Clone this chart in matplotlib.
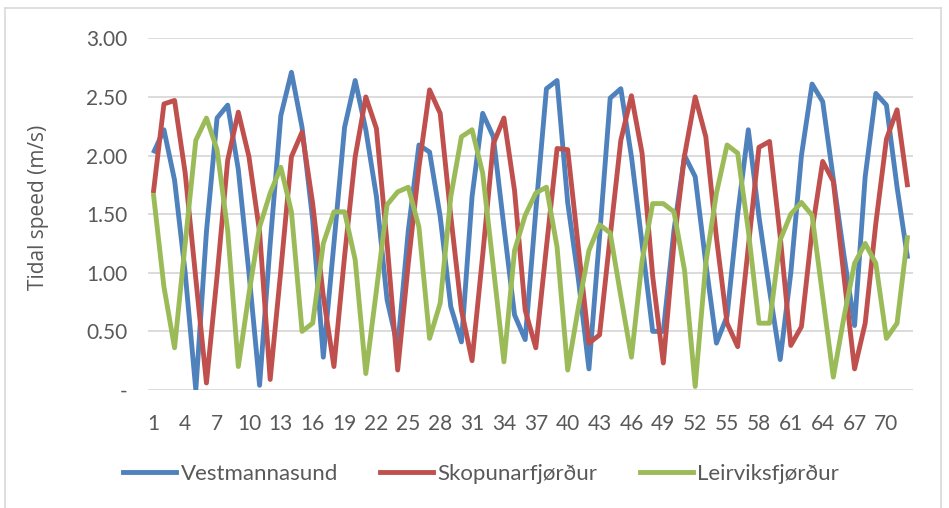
import matplotlib
matplotlib.use("Agg")
import matplotlib.pyplot as plt
from matplotlib.lines import Line2D
import numpy as np

x_values = list(range(1, 73))
tick_labels = [str(v) for v in range(1, 73, 3)]

vestmannasund = [2.02, 2.22, 1.79, 1.00, 0.00, 1.35, 2.32, 2.43, 1.88, 1.00,
                 0.04, 1.25, 2.34, 2.71, 2.24, 1.45, 0.28, 1.25, 2.24, 2.64,
                 2.22, 1.65, 0.77, 0.37, 1.36, 2.09, 2.03, 1.48, 0.71, 0.41,
                 1.65, 2.36, 2.16, 1.39, 0.64, 0.43, 1.53, 2.57, 2.64, 1.60,
                 0.95, 0.18, 1.31, 2.49, 2.57, 1.99, 1.25, 0.50, 0.50, 1.36,
                 2.00, 1.82, 1.08, 0.40, 0.63, 1.50, 2.22, 1.48, 0.85, 0.26,
                 1.00, 2.00, 2.61, 2.46, 1.80, 1.15, 0.55, 1.82, 2.53, 2.43,
                 1.73, 1.12]
skopunarfjordur = [1.68, 2.44, 2.47, 1.85, 0.95, 0.06, 0.97, 1.96, 2.37, 1.99,
                   1.35, 0.09, 1.02, 1.99, 2.20, 1.59, 0.80, 0.20, 1.14, 1.99,
                   2.50, 2.23, 1.25, 0.17, 1.08, 1.90, 2.56, 2.36, 1.48, 0.68,
                   0.25, 1.15, 2.10, 2.32, 1.70, 0.68, 0.36, 1.22, 2.06, 2.05,
                   1.22, 0.40, 0.47, 1.31, 2.13, 2.51, 2.02, 0.97, 0.23, 1.25,
                   2.00, 2.50, 2.16, 1.30, 0.57, 0.37, 1.22, 2.07, 2.12, 1.31,
                   0.38, 0.54, 1.36, 1.95, 1.78, 0.97, 0.18, 0.57, 1.42, 2.14,
                   2.39, 1.73]
leirviksfjordur = [1.68, 0.88, 0.36, 1.25, 2.13, 2.32, 2.05, 1.36, 0.20, 0.82,
                   1.39, 1.68, 1.90, 1.52, 0.50, 0.57, 1.25, 1.52, 1.52, 1.11,
                   0.14, 0.85, 1.58, 1.69, 1.73, 1.39, 0.44, 0.74, 1.65, 2.16,
                   2.22, 1.85, 1.05, 0.24, 1.19, 1.49, 1.68, 1.73, 1.22, 0.17,
                   0.70, 1.19, 1.41, 1.34, 0.80, 0.28, 1.10, 1.59, 1.59, 1.52,
                   1.02, 0.03, 1.08, 1.68, 2.09, 2.02, 1.36, 0.57, 0.57, 1.28,
                   1.50, 1.60, 1.49, 0.80, 0.11, 0.62, 1.08, 1.25, 1.08, 0.44,
                   0.57, 1.32]

series_names = ["Vestmannasund", "Skopunarfjørður", "Leirviksfjørður"]
series_colors = ["#4F81BD", "#C0504D", "#9BBB59"]
y_ticks = [0, 0.5, 1.0, 1.5, 2.0, 2.5, 3.0]
y_tick_labels = ["-", "0.50", "1.00", "1.50", "2.00", "2.50", "3.00"]

W, H = 949, 508
fig = plt.figure(figsize=(W / 100, H / 100), dpi=100)
ax = fig.add_axes([148 / W, 1 - 390 / H, (913 - 148) / W, (390 - 38.3) / H])

for data, name, col in zip([vestmannasund, skopunarfjordur, leirviksfjordur],
                           series_names, series_colors):
    ax.plot(x_values, data, color=col, lw=3.5, label=name,
            solid_joinstyle="round", solid_capstyle="butt", zorder=3)

ax.set_xlim(0.5, 72.5)
ax.set_ylim(0, 3.0)
ax.set_yticks(y_ticks)
ax.set_yticklabels(y_tick_labels)
ax.set_xticks(list(range(1, 73, 3)))
ax.set_xticklabels(tick_labels)
ax.grid(axis="y", color="#D9D9D9", lw=1.3, zorder=0)
ax.set_axisbelow(True)
for s in ax.spines.values():
    s.set_visible(False)
ax.tick_params(axis="both", length=0, labelsize=15, labelcolor="#595959")
ax.tick_params(axis="y", pad=15)
ax.tick_params(axis="x", pad=17)
for lab in ax.get_xticklabels() + ax.get_yticklabels():
    lab.set_fontfamily("Lato")

ax.set_ylabel("Tidal speed (m/s)", fontsize=15, color="#595959",
              family="Open Sans", labelpad=0)
ax.yaxis.set_label_coords(-(148 - 49) / (913 - 148), 0.52)

handles = [Line2D([], [], color=c, lw=3.5) for c in series_colors]
leg = fig.legend(handles, series_names, loc="center",
                 bbox_to_anchor=(481 / W, 1 - 474 / H), ncol=3, frameon=False,
                 handlelength=2.4, handletextpad=0.18, columnspacing=1.9,
                 prop={"family": "Lato", "size": 16})
for t in leg.get_texts():
    t.set_color("#595959")

# chart area border
fig.add_artist(Line2D([5 / W, 941 / W], [1 - 8 / H, 1 - 8 / H], color="#D9D9D9", lw=1.2))
fig.add_artist(Line2D([5 / W, 5 / W], [0, 1 - 8 / H], color="#D9D9D9", lw=1.2))
fig.add_artist(Line2D([941 / W, 941 / W], [0, 1 - 8 / H], color="#D9D9D9", lw=1.2))

fig.savefig("out.png", dpi=100)
